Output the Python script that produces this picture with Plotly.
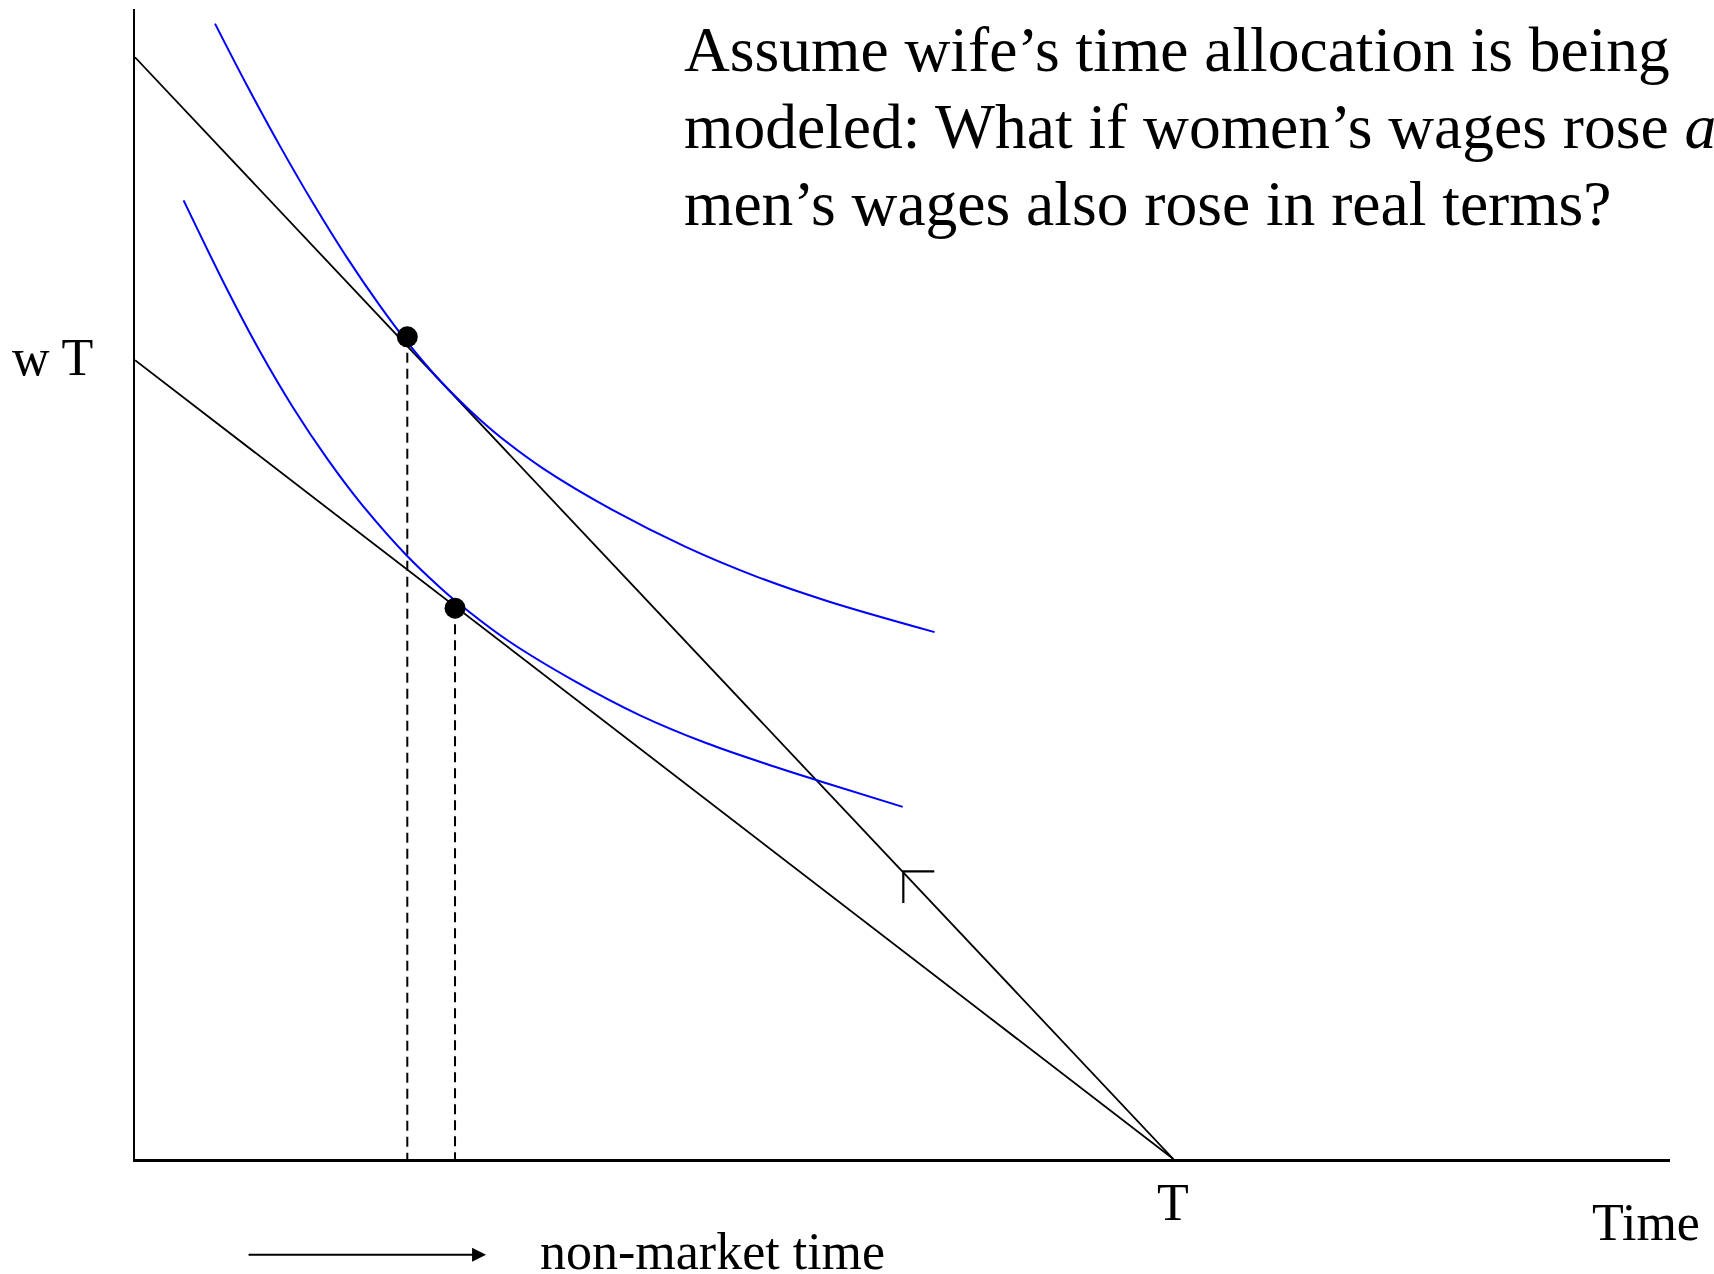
import plotly.graph_objects as go

# ---- data (hours on x, income on y) ----
T_HOURS = 24
X_MAX = 35.48
Y_MAX = 345.5

budget_high_x = [0, 24]
budget_high_y = [331.0, 0]
budget_low_x = [0, 24]
budget_low_y = [240.0, 0]

ic_high_x = [1.849, 2.589, 3.352, 4.114, 4.900, 5.663, 6.287, 7.050, 7.767, 8.437,
             9.428, 11.079, 12.729, 14.380, 16.032, 18.482]
ic_high_y = [341.1, 322.5, 304.3, 287.2, 270.8, 256.3, 245.5, 233.9, 224.6, 217.0,
             207.5, 194.7, 183.9, 174.9, 167.5, 158.3]

ic_low_x = [1.123, 2.150, 2.889, 3.652, 4.438, 5.201, 6.280, 7.050, 7.397,
            8.592, 10.131, 11.673, 13.215, 14.754, 15.833, 17.745]
ic_low_y = [288.0, 260.7, 242.6, 225.8, 210.5, 197.3, 181.3, 171.7, 167.8,
            156.0, 143.8, 133.3, 124.9, 118.0, 113.5, 105.8]

opt_x = [6.294, 7.397]
opt_y = [247.0, 165.5]

kink_x = [17.759, 17.759, 18.475]
kink_y = [76.9, 86.4, 86.4]

title_lines = [
    "Assume wife\u2019s time allocation is being",
    "modeled: What if women\u2019s wages rose <i>and</i>",
    "men\u2019s wages also rose in real terms?",
]
title_y = [333.4, 310.3, 287.1]

FONT = "Liberation Serif, Times New Roman, serif"

fig = go.Figure()

fig.add_trace(go.Scatter(x=budget_high_x, y=budget_high_y, mode="lines",
                         line=dict(color="black", width=1.8), hoverinfo="skip"))
fig.add_trace(go.Scatter(x=budget_low_x, y=budget_low_y, mode="lines",
                         line=dict(color="black", width=1.8), hoverinfo="skip"))

for i in range(2):
    fig.add_trace(go.Scatter(x=[opt_x[i], opt_x[i]], y=[opt_y[i], 0], mode="lines",
                             line=dict(color="black", width=2, dash="10px,6px"),
                             hoverinfo="skip"))

fig.add_trace(go.Scatter(x=kink_x, y=kink_y, mode="lines",
                         line=dict(color="black", width=2.2), hoverinfo="skip"))

fig.add_trace(go.Scatter(x=ic_high_x, y=ic_high_y, mode="lines",
                         line=dict(color="#0000FF", width=2, shape="spline", smoothing=1),
                         hoverinfo="skip"))
fig.add_trace(go.Scatter(x=ic_low_x, y=ic_low_y, mode="lines",
                         line=dict(color="#0000FF", width=2, shape="spline", smoothing=1),
                         hoverinfo="skip"))

fig.add_trace(go.Scatter(x=opt_x, y=opt_y, mode="markers",
                         marker=dict(color="black", size=21), hoverinfo="skip"))

annotations = []
for txt, yy in zip(title_lines, title_y):
    annotations.append(dict(x=12.64, y=yy, xref="x", yref="y", text=txt,
                            showarrow=False, xanchor="left", yanchor="middle",
                            align="left", font=dict(family=FONT, size=63.5, color="black")))

annotations.append(dict(x=-0.0261, y=0.6972, xref="paper", yref="paper", text="w T",
                        showarrow=False, xanchor="right", yanchor="middle",
                        font=dict(family=FONT, size=52, color="black")))
annotations.append(dict(x=T_HOURS, y=-0.038, xref="x", yref="paper", text="T",
                        showarrow=False, xanchor="center", yanchor="middle",
                        font=dict(family=FONT, size=52, color="black")))
annotations.append(dict(x=0.9844, y=-0.0554, xref="paper", yref="paper", text="Time",
                        showarrow=False, xanchor="center", yanchor="middle",
                        font=dict(family=FONT, size=52, color="black")))
annotations.append(dict(x=0.2625, y=-0.0806, xref="paper", yref="paper",
                        text="non-market time", showarrow=False,
                        xanchor="left", yanchor="middle",
                        font=dict(family=FONT, size=52, color="black")))
annotations.append(dict(x=0.2287, y=-0.0832, xref="paper", yref="paper",
                        ax=-239, ay=0, axref="pixel", ayref="pixel", text="",
                        showarrow=True, arrowhead=2, arrowsize=1.4, arrowwidth=2,
                        arrowcolor="black"))

fig.update_layout(
    width=1714, height=1274, autosize=False,
    margin=dict(l=135, r=44, t=8.5, b=114.7, pad=0),
    paper_bgcolor="white", plot_bgcolor="white",
    showlegend=False,
    annotations=annotations,
    xaxis=dict(range=[0, X_MAX], showline=True, linecolor="black", linewidth=2.5,
               showgrid=False, zeroline=False, showticklabels=False, ticks="",
               fixedrange=True),
    yaxis=dict(range=[0, Y_MAX], showline=True, linecolor="black", linewidth=2,
               showgrid=False, zeroline=False, showticklabels=False, ticks="",
               fixedrange=True),
)

fig.write_html("out.html", config={"displayModeBar": False},
               post_script="document.body.style.margin='0';document.body.style.overflow='hidden';")
